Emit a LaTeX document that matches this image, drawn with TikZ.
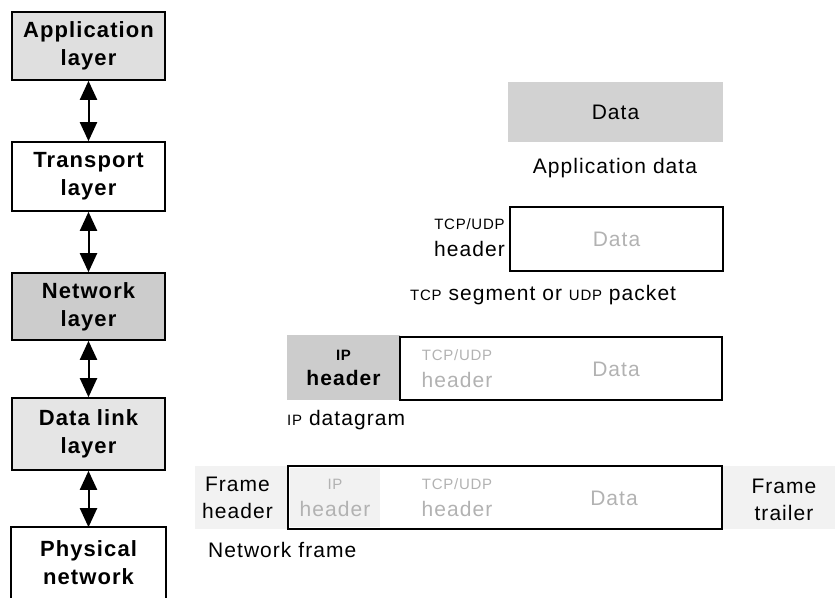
\documentclass[tikz,border=0pt]{standalone}
\usepackage{fontspec}
\setmainfont{Liberation Sans}[LetterSpace=5]
\usetikzlibrary{arrows.meta,positioning}
\newcommand{\abbr}[1]{{\fontsize{15}{15}\selectfont #1}}
\begin{document}
\begin{tikzpicture}[x=1pt, y=-1pt,
    layer/.style={draw, line width=1.6pt, minimum width=153pt, align=center,
        font=\fontsize{22}{28}\selectfont\bfseries, inner sep=0pt},
    link/.style={line width=2pt,
        {Triangle[width=17pt,length=19pt]}-{Triangle[width=17pt,length=19pt]}},
    lbl/.style={font=\fontsize{21}{27}\selectfont, align=center, inner sep=0pt},
    faded/.style={lbl, text=gray!60},
    packet/.style={draw, line width=1.6pt, inner sep=0pt}]
    \useasboundingbox (0,0) rectangle (835,597);
    % Layers
    \node[layer, fill=gray!25, minimum height=68pt] (app) at (88.5,46) {Application\\layer};
    \node[layer, minimum height=69pt] (trans) at (88.5,176.5) {Transport\\layer};
    \node[layer, fill=gray!40, minimum height=67pt] (net) at (88.5,306.5) {Network\\layer};
    \node[layer, fill=gray!20, minimum height=72pt] (link) at (88.5,434) {Data link\\layer};
    \node[layer, draw=none, minimum height=69pt] (phys) at (88.5,562.5) {Physical\\network};
    \draw[line width=1.6pt] (phys.south west) -- (phys.north west) -- (phys.north east) -- (phys.south east);
    \draw[link] (app) -- (trans);
    \draw[link] (trans) -- (net);
    \draw[link] (net) -- (link);
    \draw[link] (link) -- (phys);
    % Application data
    \node[lbl, fill=gray!35, minimum width=215pt, minimum height=60pt] (data) at (615.5,112) {Data};
    \node[lbl] (appcap) at (615,168) {Application data};
    % TCP segment
    \node[packet, minimum width=213pt, minimum height=64pt] (seg) at (616.5,239) {};
    \node[faded] at (seg) {Data};
    \node[lbl, anchor=east] (seghdr) at (505,238) {\abbr{TCP/UDP}\\header};
    \node[lbl, anchor=west] (segcap) at (410,295) {\abbr{TCP} segment or \abbr{UDP} packet};
    % IP datagram
    \node[lbl, fill=gray!40, minimum width=113pt, minimum height=65pt,
        font=\fontsize{21}{25}\selectfont\bfseries] (iphdr) at (343.5,367.5) {\abbr{IP}\\header};
    \node[packet, minimum width=322pt, minimum height=63pt] (ip) at (561,368.5) {};
    \node[faded] at (457,369) {\abbr{TCP/UDP}\\header};
    \node[faded] at (616,369) {Data};
    \node[lbl, anchor=west] (ipcap) at (287,420) {\abbr{IP} datagram};
    % Network frame
    \fill[gray!10] (195,466) rectangle (288,529);
    \fill[gray!10] (722,466) rectangle (835,529);
    \fill[gray!10] (290,468) rectangle (380,527);
    \node[packet, minimum width=434pt, minimum height=63pt] (frm) at (505,497.5) {};
    \node[lbl, anchor=east] (frmhdr) at (273,498) {Frame\\header};
    \node[faded] at (335,498) {\abbr{IP}\\header};
    \node[faded] at (457,498) {\abbr{TCP/UDP}\\header};
    \node[faded] at (614,498) {Data};
    \node[lbl] (frmtrl) at (784,500) {Frame\\trailer};
    \node[lbl, anchor=west] (frmcap) at (208,550) {Network frame};
\end{tikzpicture}
\end{document}
